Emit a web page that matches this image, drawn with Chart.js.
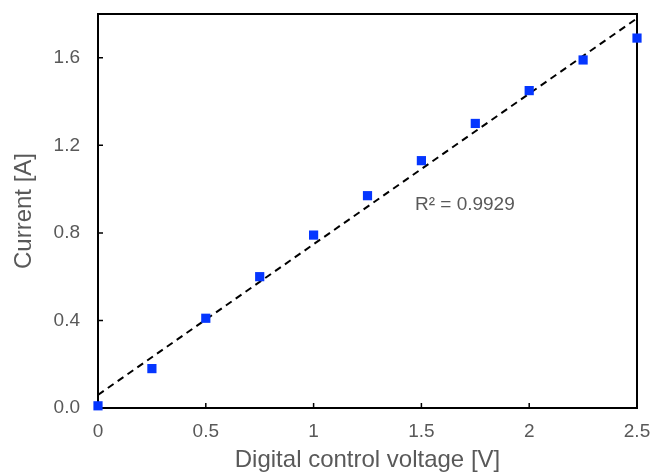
<!DOCTYPE html>
<html>
<head>
<meta charset="utf-8">
<script src="https://cdn.jsdelivr.net/npm/chart.js@4.4.0/dist/chart.umd.min.js"></script>
<style>
  html, body { margin: 0; padding: 0; background: #fff; }
  #wrap { width: 652px; height: 472px; }
</style>
</head>
<body>
<div id="wrap"><canvas id="chart" width="652" height="472"></canvas></div>
<script>
// measured points
const voltage = [0, 0.25, 0.5, 0.75, 1.0, 1.25, 1.5, 1.75, 2.0, 2.25, 2.5];
const current = [0.01, 0.18, 0.41, 0.60, 0.79, 0.97, 1.13, 1.30, 1.45, 1.59, 1.69];

// linear trendline endpoints, as drawn on the figure
const trendX = [0, 2.5];
const trendY = [0.06, 1.78];

const xTicks = [0, 0.5, 1, 1.5, 2, 2.5];
const yTicks = [0, 0.4, 0.8, 1.2, 1.6];
const r2Label = 'R² = 0.9929';

const grey = '#595959';
const font = 'Arial, "Liberation Sans", sans-serif';

// frame + inward tick marks (under the markers) + R² label
const framePlugin = {
  id: 'frame',
  beforeDatasetsDraw(chart) {
    const { ctx, chartArea: a, scales } = chart;
    ctx.save();
    ctx.strokeStyle = '#000';
    ctx.lineWidth = 2;
    ctx.strokeRect(a.left, a.top, a.right - a.left, a.bottom - a.top);

    ctx.lineWidth = 1.5;
    ctx.beginPath();
    xTicks.forEach(v => {
      const px = scales.x.getPixelForValue(v);
      ctx.moveTo(px, a.bottom);
      ctx.lineTo(px, a.bottom - 5);
    });
    yTicks.forEach(v => {
      const py = scales.y.getPixelForValue(v);
      ctx.moveTo(a.left, py);
      ctx.lineTo(a.left + 5, py);
    });
    ctx.stroke();

    ctx.fillStyle = grey;
    ctx.font = '19px ' + font;
    ctx.textAlign = 'left';
    ctx.textBaseline = 'middle';
    ctx.fillText(r2Label, scales.x.getPixelForValue(1.47), scales.y.getPixelForValue(0.93));
    ctx.restore();
  }
};

new Chart(document.getElementById('chart'), {
  type: 'scatter',
  data: {
    datasets: [
      {
        label: 'Current',
        data: voltage.map((v, i) => ({ x: v, y: current[i] })),
        pointStyle: 'rect',
        pointRadius: 6.5,
        pointHoverRadius: 6.5,
        backgroundColor: '#0536ff',
        borderColor: '#0536ff',
        borderWidth: 0,
        clip: false,
        order: 1
      },
      {
        label: 'Linear',
        type: 'line',
        data: trendX.map((v, i) => ({ x: v, y: trendY[i] })),
        borderColor: '#000',
        borderWidth: 2,
        borderDash: [7, 5],
        pointRadius: 0,
        fill: false,
        order: 2
      }
    ]
  },
  options: {
    responsive: false,
    animation: false,
    layout: { padding: { top: 14, right: 15, left: 12, bottom: 0 } },
    plugins: {
      legend: { display: false },
      tooltip: { enabled: false }
    },
    scales: {
      x: {
        type: 'linear',
        min: 0,
        max: 2.5,
        afterBuildTicks: scale => { scale.ticks = xTicks.map(v => ({ value: v })); },
        // fixed axis height, no label overflow padding
        afterFit: scale => { scale.paddingLeft = 0; scale.paddingRight = 0; scale.height = 64; },
        grid: { display: false, drawTicks: false },
        border: { display: false },
        ticks: {
          color: grey,
          font: { size: 19, family: font },
          padding: 12,
          callback: v => String(v)
        },
        title: {
          display: true,
          text: 'Digital control voltage [V]',
          color: grey,
          font: { size: 24, family: font, lineHeight: 1 },
          padding: { top: 0, bottom: 0 }
        }
      },
      y: {
        type: 'linear',
        min: 0,
        max: 1.8,
        afterBuildTicks: scale => { scale.ticks = yTicks.map(v => ({ value: v })); },
        afterFit: scale => { scale.paddingTop = 0; scale.paddingBottom = 0; scale.width = 86; },
        grid: { display: false, drawTicks: false },
        border: { display: false },
        ticks: {
          color: grey,
          font: { size: 19, family: font },
          padding: 18,
          callback: v => Number(v).toFixed(1)
        },
        title: {
          display: true,
          text: 'Current [A]',
          color: grey,
          font: { size: 24, family: font, lineHeight: 1 },
          padding: { top: 0, bottom: 0 }
        }
      }
    }
  },
  plugins: [framePlugin]
});
</script>
</body>
</html>
